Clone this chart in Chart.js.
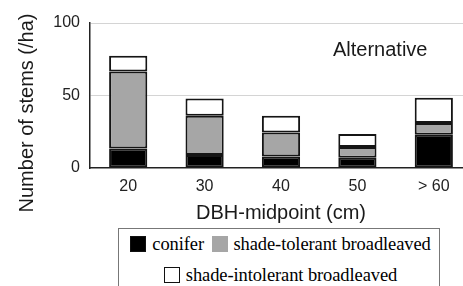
<!DOCTYPE html>
<html>
<head>
<meta charset="utf-8">
<script src="https://cdn.jsdelivr.net/npm/chart.js@4"></script>
<style>
  html, body { margin: 0; padding: 0; background: #fff; overflow: hidden; }
  #wrap { position: relative; width: 463px; height: 286px; overflow: hidden; }
  #c { position: absolute; left: 0; top: 0; }
  #legend {
    position: absolute; left: 118px; top: 228px; width: 322px; height: 70px;
    border: 1px solid #777; box-sizing: border-box;
    font-family: "Liberation Serif", "Times New Roman", serif; font-size: 18.5px; color: #000;
    text-align: center; line-height: 31px; white-space: nowrap; letter-spacing: -0.1px;
  }
  #legend .sw { display: inline-block; width: 16px; height: 16px; border: 1px solid #111;
    vertical-align: -2px; margin: 0 6px 0 3px; box-sizing: border-box; }
</style>
</head>
<body>
<div id="wrap">
  <canvas id="c" width="480" height="228"></canvas>
  <div id="legend"></div>
</div>
<script>
// DBH classes
var dbhClasses = ['20', '30', '40', '50', '> 60'];

// stems per ha, stacked bottom to top
var conifer = [13.5, 9, 8, 7, 23];
var shadeTolerant = [53, 27, 16.5, 7.5, 8];
var shadeIntolerant = [11, 12, 11.5, 9, 17.5];

var seriesNames = ['conifer', 'shade-tolerant broadleaved', 'shade-intolerant broadleaved'];
var seriesColors = ['#000000', '#a6a6a6', '#ffffff'];

var yTicks = [0, 50, 100];

// y title + panel label drawn on the canvas
var extraText = {
    id: 'extraText',
    afterDraw: function(chart) {
        var ctx = chart.ctx;
        ctx.save();
        ctx.fillStyle = '#1a1a1a';
        ctx.font = '20px "Liberation Sans", Arial, sans-serif';
        ctx.textAlign = 'left';
        ctx.textBaseline = 'middle';
        ctx.fillText('Alternative', 333, 50);
        ctx.translate(27, 113);
        ctx.rotate(-Math.PI / 2);
        ctx.textAlign = 'center';
        ctx.fillText('Number of stems (/ha)', 0, 0);
        ctx.restore();
    }
};

var ctx = document.getElementById('c');
var chart = new Chart(ctx, {
    type: 'bar',
    data: {
        labels: dbhClasses,
        datasets: [
            { label: seriesNames[0], data: conifer, backgroundColor: seriesColors[0] },
            { label: seriesNames[1], data: shadeTolerant, backgroundColor: seriesColors[1] },
            { label: seriesNames[2], data: shadeIntolerant, backgroundColor: seriesColors[2] }
        ]
    },
    options: {
        responsive: false,
        animation: false,
        layout: { padding: { top: 23, right: 8, left: 0, bottom: 0 } },
        datasets: {
            bar: {
                borderColor: '#151515',
                borderWidth: 2,
                borderSkipped: false,
                barPercentage: 0.5,
                categoryPercentage: 1.0
            }
        },
        plugins: {
            legend: { display: false },
            tooltip: { enabled: false }
        },
        scales: {
            x: {
                stacked: true,
                grid: { display: false, drawTicks: false },
                border: { display: true, color: '#222', width: 1.5 },
                ticks: {
                    color: '#222',
                    padding: 9,
                    font: { family: '"Liberation Sans", Arial, sans-serif', size: 16 }
                },
                title: {
                    display: true,
                    text: 'DBH-midpoint (cm)',
                    color: '#1a1a1a',
                    padding: { top: 0, bottom: 3 },
                    font: { family: '"Liberation Sans", Arial, sans-serif', size: 20 }
                },
                afterFit: function(scale) { scale.height = 60; }
            },
            y: {
                stacked: true,
                min: 0,
                max: 100,
                afterBuildTicks: function(scale) {
                    scale.ticks = yTicks.map(function(v) { return { value: v }; });
                },
                grid: {
                    drawTicks: false,
                    color: function(c) { return c.tick && c.tick.value === 0 ? 'rgba(0,0,0,0)' : '#d4d4d4'; },
                    lineWidth: 1
                },
                border: { display: true, color: '#222', width: 1.5 },
                ticks: {
                    color: '#222',
                    padding: 10,
                    font: { family: '"Liberation Sans", Arial, sans-serif', size: 16 }
                },
                afterFit: function(scale) { scale.width = 90; }
            }
        }
    },
    plugins: [extraText]
});

// legend box under the chart
var legend = document.getElementById('legend');
var html = '';
for (var i = 0; i < seriesNames.length; i++) {
    var sw = '<span class="sw" style="background:' + seriesColors[i] + (i === 1 ? ';border-color:#a6a6a6' : '') + '"></span>';
    html += sw + seriesNames[i] + (i === 1 ? '<br>' : ' ');
}
legend.innerHTML = html;
</script>
</body>
</html>
